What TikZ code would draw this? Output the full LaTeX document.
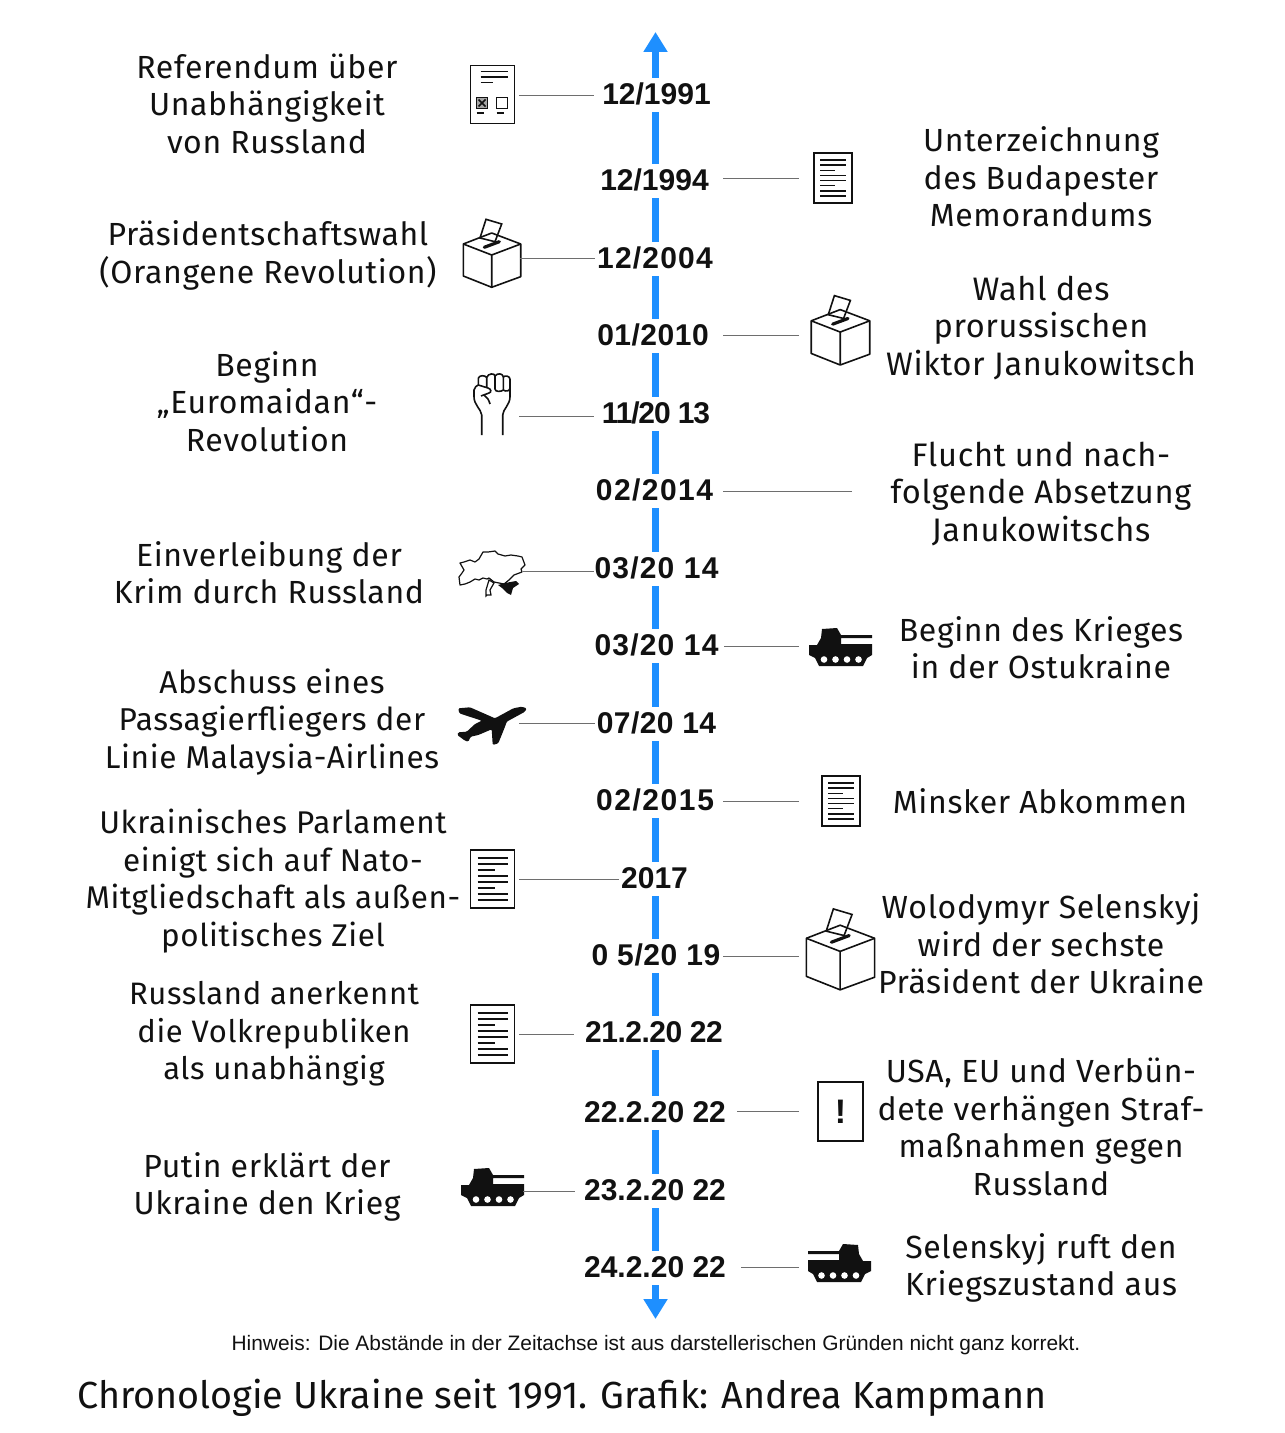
\documentclass[tikz,border=0pt]{standalone}
\usepackage{fontspec}
\usepackage{xcolor}
\usetikzlibrary{positioning, arrows.meta, calc}
\setmainfont{Fira Sans}[LetterSpace=2]
\newfontfamily\datefont{Liberation Sans}[BoldFont=Liberation Sans Bold]
\newfontfamily\notefont{Liberation Sans}
\definecolor{axisblue}{HTML}{1E8FFF}
\definecolor{inkblack}{HTML}{111111}
\definecolor{connline}{HTML}{6E6E6E}
\newcommand{\track}[2]{{\addfontfeature{LetterSpace=#1}#2}}

\begin{document}
\begin{tikzpicture}[
  x=0.5pt, y=-0.5pt,
  every node/.style={text=inkblack},
  axisline/.style={{Triangle[length=10pt,width=11.5pt]}-{Triangle[length=10pt,width=11.5pt]}, line width=3.5pt, axisblue},
  datum/.style={fill=white, inner sep=0pt, minimum width=#1, minimum height=17pt, text height=10.8pt, text depth=1pt, font=\datefont\fontsize{15}{15}\selectfont\bfseries},
  conn/.style={line width=0.5pt, connline},
  event/.style={align=center, font=\fontsize{16}{18.75}\selectfont, inner sep=0pt},
  evsize/.style={font=\fontsize{#1}{18.75}\selectfont},
  ico/.style={line width=0.8pt, inkblack},
  alarmbox/.style={draw=inkblack, line width=0.8pt, minimum width=22.5pt, minimum height=29.5pt, inner sep=0pt, font=\datefont\fontsize{17}{17}\selectfont\bfseries},
  pics/memo/.style={code={
    \draw[ico] (-22,-29) rectangle (22,29);
    \foreach \ly/\lx in {-21/15,-15/15,-9/2,-3/15,3/15,9/2,15/15,21/15}
      \draw[ico, line width=0.7pt] (-15,\ly) -- (\lx,\ly);
  }},
  pics/ballotsheet/.style={code={
    \draw[ico] (-22,-29) rectangle (22,29);
    \draw[ico, line width=0.7pt] (-12,-23) -- (15,-23) (-12,-17.5) -- (15,-17.5) (-12,-12) -- (0,-12);
    \draw[ico, fill=black!35] (-16,3) rectangle (-5,14);
    \draw[ico] (-14,5) -- (-7,12) (-14,12) -- (-7,5);
    \draw[ico] (4,3) rectangle (15,14);
    \draw[ico, line width=0.7pt] (-16,18.5) -- (-9,18.5) (4,18.5) -- (11,18.5);
  }},
  pics/ballotbox/.style={code={
    \draw[ico, fill=white] (-6,-33.7) -- (9.7,-29) -- (3,-11.3) -- (-12,-15) -- cycle;
    \draw[ico, line width=1.6pt, line cap=round] (-7.7,-5.7) -- (7.3,-11.3);
    \draw[ico, line join=round] (-28.7,-9) -- (-0.3,-20) -- (28.7,-9) -- (28.7,23.7) -- (-0.3,34.3) -- (-28.7,23) -- cycle;
    \draw[ico, line join=round] (-28.7,-9) -- (-0.3,2) -- (28.7,-9) (-0.3,2) -- (-0.3,34.3);
  }},
  pics/fist/.style={code={
    \draw[ico, line join=round] (-10.3,30) -- (-10.3,10) .. controls (-11,4) and (-18,0) .. (-18,-8.3) -- (-18,-15) .. controls (-18,-18) and (-15,-19) .. (-13.7,-20) -- (-13.7,-26.7) .. controls (-13,-30) and (-7,-30) .. (-5.3,-27.5) .. controls (-4,-32) and (3,-32) .. (3,-29) .. controls (5,-32) and (11,-32) .. (11.3,-28) .. controls (13,-30) and (18,-29) .. (18,-25.7) -- (18,-8.3) .. controls (18,0) and (11,4) .. (10.7,10) -- (10.7,30);
    \draw[ico] (-13.7,-20) -- (-4,-17) .. controls (-1,-16) and (0,-13) .. (-3,-12) -- (-11,-9);
    \draw[ico] (-5.3,-27.5) -- (-5.3,-18) (3,-29) -- (3,-16) .. controls (3,-13) and (9,-13) .. (11.3,-15) -- (11.3,-28) (11.3,-15) .. controls (14,-13) and (18,-14) .. (18,-17);
    \draw[ico] (-8,-10) .. controls (-5,-8) and (-3,-5) .. (-2,-1);
  }},
  pics/ukrmap/.style={code={
    \draw[ico, line width=0.6pt, line join=round, fill=white] (-32,-10) -- (-28,-11) -- (-22,-13) -- (-17,-11) -- (-13,-14) -- (-9,-21) -- (-4,-21) -- (3,-22) -- (6,-19) -- (13,-17) -- (19,-18) -- (26,-17) -- (30,-16) -- (33,-8) -- (29,-4) -- (30,-1) -- (22,2) -- (17,7) -- (12,11) -- (7,10) -- (2,9) -- (-3,5) -- (-5,6) -- (-9,5) -- (-13,7) -- (-17,6) -- (-22,9) -- (-27,11) -- (-32,12) -- (-33,4) -- (-30,0) -- (-28,-3) -- (-32,-10) -- cycle;
    \draw[ico, line width=0.6pt, fill=white] (-3,7) -- (2,10) -- (-2,17) -- (-1,22) -- (-5,22) -- (-6,23) -- (-6,17) -- cycle;
    \fill[inkblack] (6,12) -- (13,10) -- (24,8) -- (27,11) -- (21,15) -- (19,22) -- (15,20) -- (10,15) -- cycle;
  }},
  pics/tank/.style={code={
    \fill[inkblack] (-31,-2) -- (-23,-2) -- (-19,-9) -- (-18,-18) -- (-3,-19) -- (1,-12) -- (32,-12) -- (32,-9) -- (1,-9) -- (1,-3) -- (32,-3) -- (32,8) -- (27,11) -- (23,19) -- (-21,19) -- (-25,11) -- (-31,8) -- cycle;
    \foreach \wx in {-16,-4.5,7,18.5}
      \fill[white] (\wx,12.5) circle (3.3);
  }},
  pics/jetplane/.style={code={
    \fill[inkblack, rounded corners=0.6pt] (34.7,-16.7) -- (33,-13.3) -- (14.7,-3.3) -- (13,1.7) -- (6.3,18.3) -- (0.7,20) -- (-0.3,4.3) -- (-13.7,10) -- (-21.3,11.7) -- (-23.7,16.7) -- (-27,15.7) -- (-34.7,10) -- (-33.7,7.3) -- (-25.3,6.7) -- (-17,-1) -- (-10.3,-4.3) -- (-32.7,-11.7) -- (-33.7,-16.7) -- (-22,-17.7) -- (3,-6.7) -- (21.3,-16.7) -- (29.7,-18.3) -- cycle;
  }}
]
  \useasboundingbox (0,0) rectangle (1284,1433);

  % axis
  \coordinate (axtop) at (655.5,32);
  \coordinate (axbot) at (655.5,1319);
  \draw[axisline] (axbot) -- (axtop);

  % dates
  \node[datum=62.5pt] (d1) at (656.5,95) {12/1991};
  \node[datum=68pt] (d2) at (654.5,181) {12/1994};
  \node[datum=60pt] (d3) at (655,259) {\track{4}{12/2004}};
  \node[datum=70pt] (d4) at (653,336) {\track{1.7}{01/2010}};
  \node[datum=62pt] (d5) at (656,414) {\track{-3.8}{11/20 13}};
  \node[datum=68pt] (d6) at (654.5,491) {\track{4.8}{02/2014}};
  \node[datum=62pt] (d7) at (656.5,569) {\track{4}{03/20 14}};
  \node[datum=67pt] (d8) at (656.5,646) {\track{4}{03/20 14}};
  \node[datum=61pt] (d9) at (656.5,723.5) {\track{1.4}{07/20 14}};
  \node[datum=68pt] (d10) at (655,801) {\track{5.3}{02/2015}};
  \node[datum=35pt] (d11) at (654.5,879) {2017};
  \node[datum=67pt] (d12) at (656,956) {\track{2}{0 5/20 19}};
  \node[datum=80pt] (d13) at (654,1033) {\track{-1.7}{21.2.20 22}};
  \node[datum=82pt] (d14) at (655,1112.5) {22.2.20 22};
  \node[datum=80pt] (d15) at (655,1191) {23.2.20 22};
  \node[datum=86pt] (d16) at (655,1268) {24.2.20 22};

  % icons
  \pic at (492.5,94.5) {ballotsheet};
  \pic[scale=0.86] at (833,178) {memo};
  \pic at (492,253) {ballotbox};
  \pic[scale=1.02] at (840.5,330) {ballotbox};
  \pic at (492,405) {fist};
  \pic at (492,573) {ukrmap};
  \pic at (840,647) {tank};
  \pic at (492,725) {jetplane};
  \pic[scale=0.86] at (841,801) {memo};
  \pic at (492.5,879) {memo};
  \pic[scale=1.19] at (840.5,949) {ballotbox};
  \pic at (492.5,1034) {memo};
  \node[alarmbox] (warn) at (840.5,1111.5) {!};
  \pic at (492,1187) {tank};
  \pic[xscale=-1] at (840,1263) {tank};

  % connectors
  \coordinate (c1) at (519,95.5);
  \coordinate (c2) at (799,179);
  \coordinate (c3) at (520,259);
  \coordinate (c4) at (799,336);
  \coordinate (c5) at (519,416);
  \coordinate (c6) at (852,491);
  \coordinate (c7) at (523,571);
  \coordinate (c8) at (799,646.5);
  \coordinate (c9) at (519,723);
  \coordinate (c10) at (799,801);
  \coordinate (c11) at (519,879);
  \coordinate (c12) at (799,956);
  \coordinate (c13) at (519,1034);
  \coordinate (c14) at (799,1111);
  \coordinate (c15) at (523,1191);
  \coordinate (c16) at (799,1267);
  \draw[conn] (c1) -- (c1 -| d1.west);
  \draw[conn] (c2) -- (c2 -| d2.east);
  \draw[conn] (c3) -- (c3 -| d3.west);
  \draw[conn] (c4) -- (c4 -| d4.east);
  \draw[conn] (c5) -- (c5 -| d5.west);
  \draw[conn] (c6) -- (c6 -| d6.east);
  \draw[conn] (c7) -- (c7 -| d7.west);
  \draw[conn] (c8) -- (c8 -| d8.east);
  \draw[conn] (c9) -- (c9 -| d9.west);
  \draw[conn] (c10) -- (c10 -| d10.east);
  \draw[conn] (c11) -- (c11 -| d11.west);
  \draw[conn] (c12) -- (c12 -| d12.east);
  \draw[conn] (c13) -- (c13 -| d13.west);
  \draw[conn] (c14) -- (c14 -| d14.east);
  \draw[conn] (c15) -- (c15 -| d15.west);
  \draw[conn] (c16) -- (c16 -| d16.east);

  % events
  \node[event] (l1) at (267,103.5) {Referendum über\\Unabhängigkeit\\von Russland};
  \node[event] (r1) at (1041,177) {Unterzeichnung\\des Budapester\\Memorandums};
  \node[event] (l2) at (268,255.5) {Präsidentschaftswahl\\(Orangene Revolution)};
  \node[event, evsize=16.25] (r2) at (1041,328) {Wahl des\\prorussischen\\Wiktor Janukowitsch};
  \node[event] (l3) at (267,401.5) {Beginn\\„Euromaidan“-\\Revolution};
  \node[event, evsize=16.3] (r3) at (1041,494) {Flucht und nach-\\folgende Absetzung\\Janukowitschs};
  \node[event] (l4) at (269,572.5) {Einverleibung der\\Krim durch Russland};
  \node[event] (r4) at (1041,647.5) {Beginn des Krieges\\in der Ostukraine};
  \node[event, evsize=15.8] (l5) at (272,722) {Abschuss eines\\Passagierfliegers der\\Linie Malaysia-Airlines};
  \node[event] (r5) at (1040,801) {Minsker Abkommen};
  \node[event, evsize=15.7] (l6) at (273,881) {Ukrainisches Parlament\\einigt sich auf Nato-\\Mitgliedschaft als außen-\\politisches Ziel};
  \node[event] (r6) at (1041,944) {Wolodymyr Selenskyj\\wird der sechste\\Präsident der Ukraine};
  \node[event, evsize=15.5] (l7) at (274,1034) {Russland anerkennt\\die Volkrepubliken\\als unabhängig};
  \node[event] (r7) at (1041,1127) {USA, EU und Verbün-\\dete verhängen Straf-\\maßnahmen gegen\\Russland};
  \node[event] (l8) at (267,1187) {Putin erklärt der\\Ukraine den Krieg};
  \node[event] (r8) at (1041,1268) {Selenskyj ruft den\\Kriegszustand aus};

  % note and caption
  \node[font=\notefont\fontsize{10.45}{12}\selectfont, inner sep=0pt] (hint) at (656,1345) {Hinweis: Die Abstände in der Zeitachse ist aus darstellerischen Gründen nicht ganz korrekt.};
  \node[font=\fontsize{18.85}{23}\selectfont, inner sep=0pt, anchor=west] (caption) at (77,1398) {\track{0}{Chronologie Ukraine seit 1991. Grafik: Andrea Kampmann}};
\end{tikzpicture}
\end{document}
